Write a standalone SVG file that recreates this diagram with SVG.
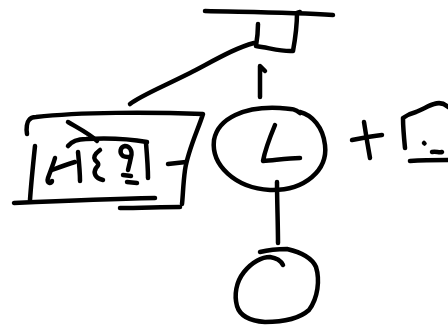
<svg xmlns="http://www.w3.org/2000/svg" width="448" height="327" viewBox="0 0 448 327">
<style>
path{fill:none;stroke:#000;stroke-width:4.5;stroke-linecap:round;stroke-linejoin:round}
</style>
<rect width="448" height="327" fill="#fff"/>
<g id="connectors">
<path d="M130,104 C140,96 160,88 190,73 C215,60 235,48 254,43"/>
<path d="M260,97 L260,66 L265,71"/>
<path d="M277,182 C277,200 278,225 278,243"/>
<path d="M168,164 L186,162"/>
</g>
<g id="top-node">
<path d="M205,11 C240,12 290,12 333,15"/>
<path d="M258,24 C258,32 257,40 256,46 C270,48 282,52 293,51 C295,40 297,25 297,13 L300,12"/>
</g>
<g id="box-node">
<path d="M27,134 C26,128 27,122 29,120 C31,117 33,117 36,117 C80,112 150,112 203,114 C198,130 188,150 185,170 C183,185 183,195 182,204"/>
<path d="M35,146 C33,165 31,185 30,200"/>
<path d="M14,203 C60,201 110,199 155,198"/>
<path d="M120,208 C140,208 162,207 180,207"/>
<path d="M68,122 C78,128 90,134 97,141"/>
<path d="M68,146 C72,141 78,139 86,139 C105,138 130,139 147,142"/>
<path d="M55,158 C53,165 50,172 48,178 C46,184 52,184 52,181"/>
<path d="M52,170 C60,167 68,164 75,162"/>
<path d="M78,152 C79,162 80,172 80,181"/>
<path d="M100,150 C96,153 93,157 95,160 C98,163 100,164 96,168 C93,173 95,178 103,180"/>
<path d="M131,157 C133,150 129,146 125,146 C120,147 119,153 123,156 C127,158 131,156 131,157 C130,162 129,166 128,170"/>
<path d="M123,175 L131,176"/>
<path d="M127,182 L137,183"/>
<path d="M146,143 C147,155 148,167 148,178"/>
</g>
<g id="circle-node">
<path d="M300,113 C294,108 290,109 280,108 C245,106 218,118 214,140 C211,165 235,188 270,190 C305,191 328,170 325,145 C323,127 312,115 300,112"/>
<path d="M275,125 C270,137 265,150 263,161 C276,160 288,158 300,158"/>
</g>
<g id="plus">
<path d="M352,140 C362,138 372,136 382,135"/>
<path d="M364,122 C366,135 368,147 370,158"/>
</g>
<g id="small-node">
<path d="M405,148 C404,138 403,128 403,118 C407,115 412,113 416,112 C425,108 430,105 434,104 C440,102 445,104 448,107"/>
<path d="M410,161 C424,160 436,160 448,160"/>
<path d="M424,143 L424.5,143.5"/>
<path d="M432,152 C436,151 439,153 442,152"/>
</g>
<g id="bottom-node">
<path d="M260,252 C268,250 278,249 287,249 C300,252 312,258 316,267 C320,280 318,298 309,310 C300,318 285,322 265,322 C250,321 240,316 237,306 C234,295 236,282 244,272 C252,262 262,257 270,257 C277,258 281,261 283,265"/>
</g>
</svg>
